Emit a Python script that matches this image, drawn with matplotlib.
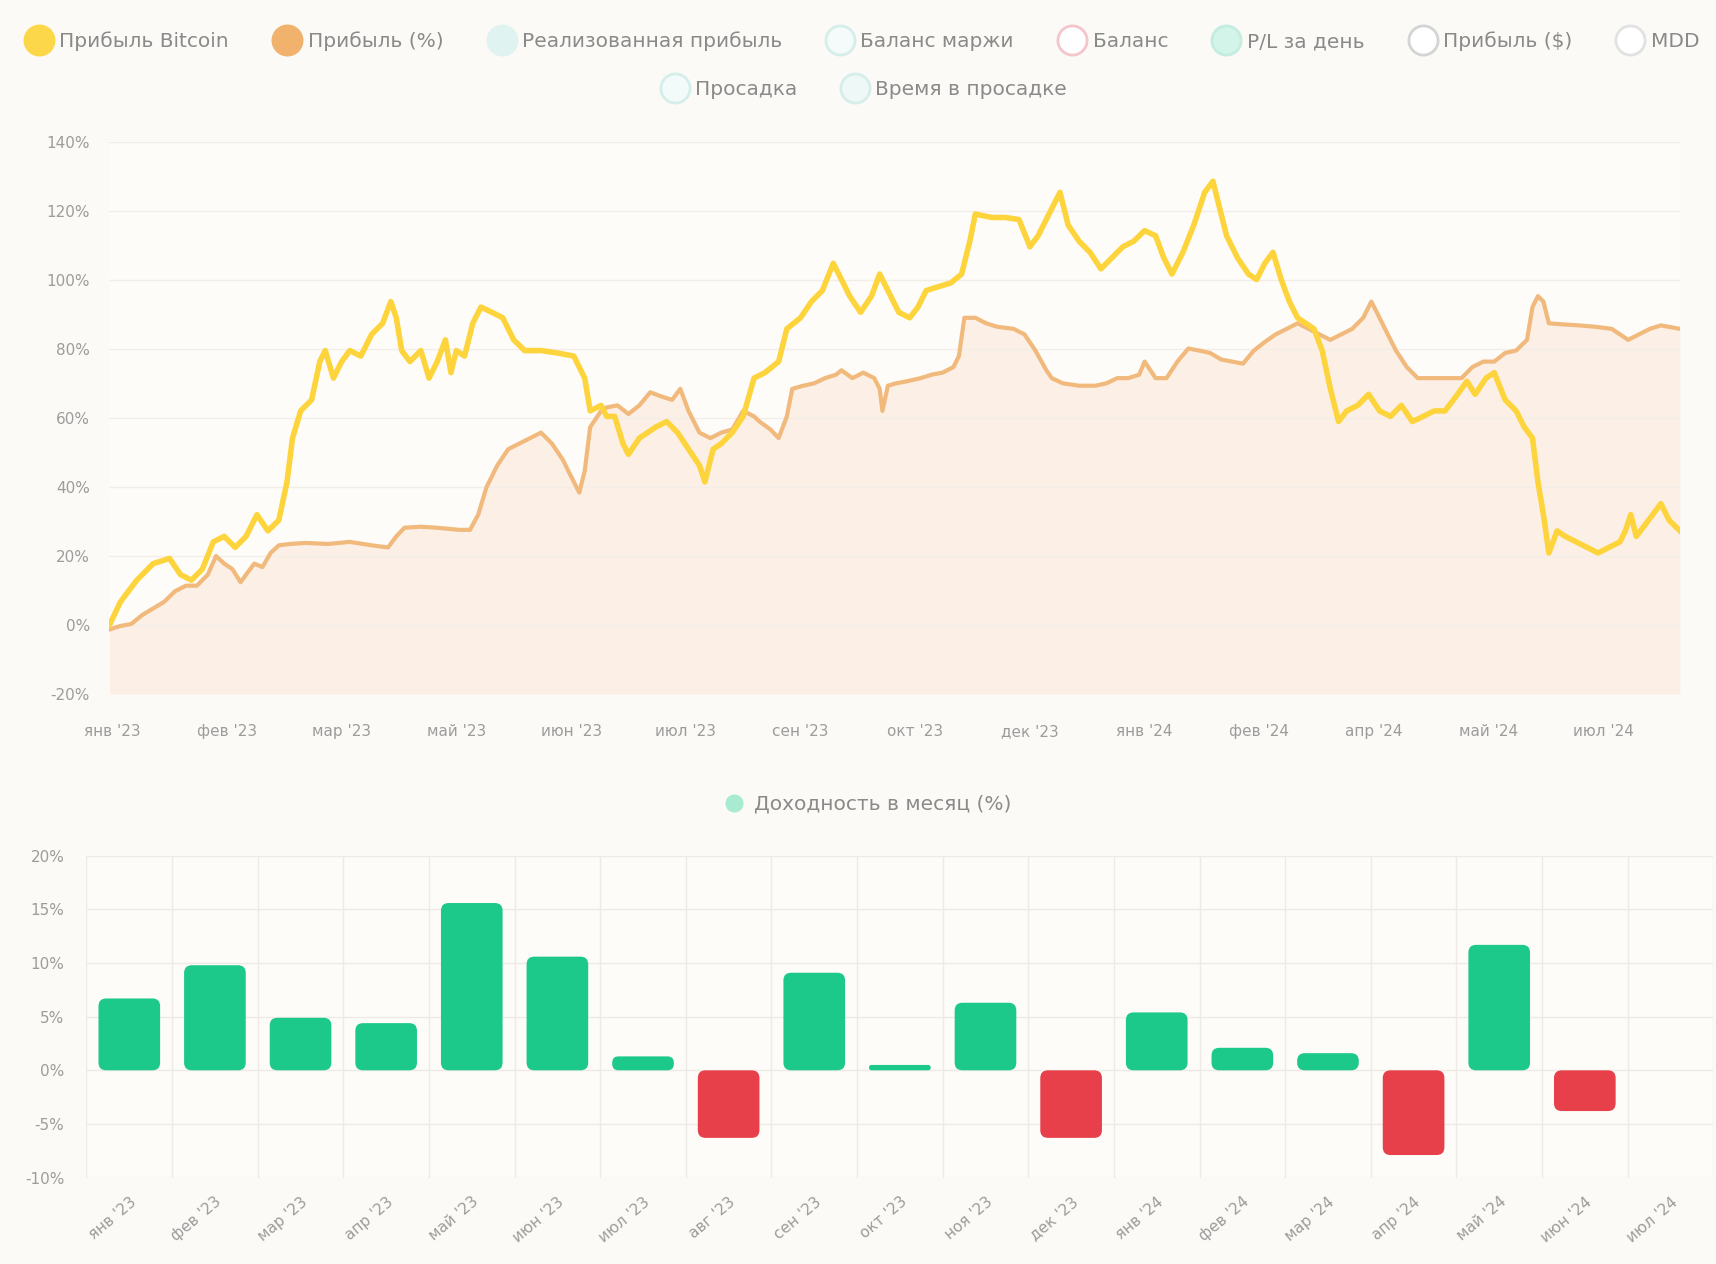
import numpy as np
import matplotlib.pyplot as plt
from matplotlib.lines import Line2D
from matplotlib.patches import FancyBboxPatch

plt.rcParams['font.family'] = ['DejaVu Sans']

# --- top chart: cumulative profit vs Bitcoin (days since start, %) ---
btc_days = [0, 4, 10, 16, 22, 26, 30, 34, 38, 42, 46, 50, 54, 58, 62, 65, 67, 70, 74, 77,
            79, 82, 85, 88, 92, 96, 100, 103, 105, 107, 110, 114, 117, 120, 123, 125, 127, 130, 133, 136,
            140, 144, 148, 152, 158, 164, 170, 174, 176, 180, 182, 185, 188, 190, 194, 197, 200, 204, 208, 212,
            216, 218, 221, 224, 228, 232, 236, 240, 245, 248, 253, 257, 261, 265, 268, 271, 275, 279, 282, 285,
            289, 293, 296, 299, 303, 308, 312, 315, 317, 323, 328, 333, 337, 340, 344, 348, 351, 355, 359, 363,
            367, 371, 375, 379, 383, 386, 389, 393, 397, 401, 404, 407, 409, 413, 417, 420, 423, 426, 429, 432,
            435, 438, 441, 444, 447, 450, 453, 457, 461, 465, 469, 473, 477, 481, 485, 489, 493, 497, 500, 504,
            507, 511, 515, 518, 521, 523, 525, 527, 530, 533, 537, 541, 545, 549, 553, 555, 557, 559, 562, 565,
            568, 571, 575]
btc_pct = [0.0, 6.7, 13.0, 17.8, 19.3, 14.6, 13.0, 16.2, 24.1, 25.7, 22.5, 25.7, 32.0, 27.3, 30.4, 41.5, 54.2, 62.1, 65.3, 76.4,
           79.6, 71.6, 76.4, 79.6, 78.0, 84.3, 87.5, 93.8, 89.1, 79.6, 76.4, 79.6, 71.6, 76.4, 82.7, 73.2, 79.6, 78.0, 87.5, 92.2,
           90.7, 89.1, 82.7, 79.6, 79.6, 78.9, 78.0, 71.6, 62.1, 63.7, 60.5, 60.5, 52.6, 49.5, 54.2, 55.8, 57.4, 59.0, 55.8, 51.0,
           46.3, 41.5, 51.0, 52.6, 55.8, 60.5, 71.6, 73.2, 76.4, 85.9, 89.1, 93.8, 97.0, 104.9, 100.2, 95.4, 90.7, 95.4, 101.8, 97.0,
           90.7, 89.1, 92.2, 97.0, 98.0, 99.2, 101.8, 111.3, 119.2, 118.2, 118.2, 117.6, 109.7, 112.9, 119.2, 125.5, 116.0, 111.3, 108.1, 103.3,
           106.5, 109.7, 111.3, 114.4, 112.9, 106.5, 101.8, 108.1, 116.0, 125.5, 128.7, 119.2, 112.9, 106.5, 101.8, 100.2, 104.9, 108.1, 100.2, 93.8,
           89.1, 87.5, 85.9, 79.6, 68.5, 59.0, 62.1, 63.7, 66.9, 62.1, 60.5, 63.7, 59.0, 60.5, 62.1, 62.1, 66.3, 70.7, 66.9, 71.6,
           73.2, 65.3, 62.1, 57.4, 54.2, 41.5, 32.0, 20.9, 27.3, 25.7, 24.1, 22.5, 20.9, 22.5, 24.1, 27.3, 32.0, 25.7, 28.8, 32.0,
           35.2, 30.4, 27.3]

profit_days = [0, 4, 8, 12, 16, 20, 24, 28, 32, 36, 39, 42, 45, 48, 50, 53, 56, 59, 62, 66,
               72, 80, 88, 96, 102, 105, 108, 114, 120, 128, 132, 135, 138, 142, 146, 150, 154, 158, 162, 166,
               169, 172, 174, 176, 180, 182, 186, 190, 194, 198, 202, 206, 209, 212, 216, 220, 224, 228, 232, 236,
               238, 242, 245, 248, 250, 254, 258, 262, 266, 268, 272, 276, 280, 282, 283, 285, 288, 292, 297, 301,
               305, 309, 311, 313, 317, 321, 325, 331, 335, 339, 343, 345, 349, 355, 361, 365, 369, 373, 377, 379,
               383, 387, 391, 395, 399, 403, 407, 411, 415, 419, 423, 427, 431, 435, 439, 443, 447, 451, 455, 459,
               462, 464, 467, 471, 475, 479, 483, 489, 495, 499, 503, 507, 511, 515, 519, 521, 523, 525, 527, 532,
               538, 544, 550, 556, 560, 564, 568, 575]
profit_pct = [-1.3, -0.3, 0.3, 2.9, 4.8, 6.7, 9.8, 11.4, 11.4, 14.6, 20.0, 17.8, 16.2, 12.4, 14.6, 17.8, 16.8, 20.9, 23.1, 23.5,
              23.8, 23.5, 24.1, 23.1, 22.5, 25.7, 28.2, 28.5, 28.2, 27.6, 27.6, 32.0, 39.9, 46.3, 51.0, 52.6, 54.2, 55.8, 52.6, 47.9,
              43.1, 38.4, 44.7, 57.4, 62.1, 63.1, 63.7, 61.2, 63.7, 67.5, 66.3, 65.3, 68.5, 62.1, 55.8, 54.2, 55.8, 56.7, 62.1, 60.5,
              59.0, 56.7, 54.2, 60.5, 68.5, 69.4, 70.1, 71.6, 72.6, 73.9, 71.6, 73.2, 71.6, 68.5, 62.1, 69.4, 70.1, 70.7, 71.6, 72.6,
              73.2, 74.8, 78.0, 89.1, 89.1, 87.5, 86.5, 85.9, 84.3, 79.6, 73.9, 71.6, 70.1, 69.4, 69.4, 70.1, 71.6, 71.6, 72.6, 76.4,
              71.6, 71.6, 76.4, 80.2, 79.6, 78.9, 77.0, 76.4, 75.8, 79.6, 82.1, 84.3, 85.9, 87.5, 85.9, 84.3, 82.7, 84.3, 85.9, 89.1,
              93.8, 90.7, 85.9, 79.6, 74.8, 71.6, 71.6, 71.6, 71.6, 74.8, 76.4, 76.4, 78.9, 79.6, 82.7, 92.2, 95.4, 93.8, 87.5, 87.2,
              86.9, 86.5, 85.9, 82.7, 84.3, 85.9, 86.9, 85.9]

top_tick_days = [1, 43, 85, 127, 169, 211, 253, 295, 337, 379, 421, 463, 505, 547]
top_tick_labels = ["янв '23", "фев '23", "мар '23", "май '23", "июн '23", "июл '23", "сен '23",
                   "окт '23", "дек '23", "янв '24", "фев '24", "апр '24", "май '24", "июл '24"]

# --- bottom chart: monthly return (%) ---
months = ["янв '23", "фев '23", "мар '23", "апр '23", "май '23", "июн '23", "июл '23", "авг '23",
          "сен '23", "окт '23", "ноя '23", "дек '23", "янв '24", "фев '24", "мар '24", "апр '24",
          "май '24", "июн '24", "июл '24"]
monthly_return = [6.7, 9.8, 4.9, 4.4, 15.6, 10.6, 1.3, -6.3, 9.1, 0.5, 6.3, -6.3, 5.4, 2.1, 1.6, -7.9,
                  11.7, -3.8, 0.0]

legend_row1 = ["Прибыль Bitcoin", "Прибыль (%)", "Реализованная прибыль", "Баланс маржи",
               "Баланс", "P/L за день", "Прибыль ($)", "MDD"]
legend_row2 = ["Просадка", "Время в просадке"]

bg = '#fcfaf6'
tick_color = '#9c9c9c'

fig = plt.figure(figsize=(17.16, 12.64), dpi=100, facecolor=bg)

# top chart
ax1 = fig.add_axes([0.0638, 0.451, 0.9152, 0.4364])
ax1.set_facecolor('#fdfcf9')
ax1.fill_between(profit_days, profit_pct, -20, color='#fcf0e6', lw=0, zorder=1)
ax1.plot(profit_days, profit_pct, color='#f1b97c', lw=3, zorder=3, solid_joinstyle='round')
ax1.plot(btc_days, btc_pct, color='#fdd43c', lw=4, zorder=4, solid_joinstyle='round')
ax1.set_xlim(0, 575)
ax1.set_ylim(-20, 140)
ax1.set_yticks(range(-20, 141, 20))
ax1.set_yticklabels([f"{v}%" for v in range(-20, 141, 20)])
ax1.set_xticks(top_tick_days)
ax1.set_xticklabels(top_tick_labels)
ax1.grid(axis='y', color='#f2eee7', lw=1, zorder=0)
ax1.tick_params(length=0, colors=tick_color, labelsize=11)
ax1.tick_params(axis='x', pad=22)
ax1.tick_params(axis='y', pad=14)
for s in ax1.spines.values():
    s.set_visible(False)

# bottom chart
ax2 = fig.add_axes([0.0504, 0.0684, 0.948, 0.2545])
ax2.set_facecolor('#fdfcf9')
ax2.set_xlim(-0.5, len(months) - 0.5)
ax2.set_ylim(-10, 20)
aspect = (30 / (0.2545 * 12.64)) / (len(months) / (0.948 * 17.16))
bar_w = 0.72
for i, v in enumerate(monthly_return):
    if v == 0:
        continue
    color = '#1dc98a' if v > 0 else '#e8404b'
    y0 = min(0, v)
    h = abs(v)
    rs = min(0.09, h / aspect / 2.2)
    p = FancyBboxPatch((i - bar_w / 2, y0), bar_w, h,
                       boxstyle=f"round,pad=0,rounding_size={rs}",
                       mutation_aspect=aspect, fc=color, ec='none', zorder=3)
    ax2.add_patch(p)
ax2.set_xticks(np.arange(len(months)))
ax2.set_xticklabels(months, rotation=40, ha='right', rotation_mode='anchor')
ax2.set_xticks(np.arange(len(months) + 1) - 0.5, minor=True)
ax2.set_yticks(range(-10, 21, 5))
ax2.set_yticklabels([f"{v}%" for v in range(-10, 21, 5)])
ax2.grid(axis='y', color='#efebe4', lw=1, zorder=0)
ax2.grid(axis='x', which='minor', color='#efebe4', lw=1, zorder=0)
ax2.tick_params(which='both', length=0, colors=tick_color, labelsize=11)
ax2.tick_params(axis='x', pad=12)
ax2.tick_params(axis='y', pad=16)
for s in ax2.spines.values():
    s.set_visible(False)

# legends
faces1 = ['#fdd74a', '#f0b26c', '#dff3f0', '#f4fbfa', '#ffffff', '#d3f4e8', '#ffffff', '#ffffff']
edges1 = ['#fdd74a', '#f0b26c', '#dff3f0', '#d5eeea', '#f4c6cb', '#c4eddf', '#d4d4d4', '#e2e2e2']
faces2 = ['#f3fbfa', '#eef8f6']
edges2 = ['#d5eeea', '#d5eeea']


def handles(labels, faces, edges, size):
    return [Line2D([], [], ls='', marker='o', markersize=size, markerfacecolor=f,
                   markeredgecolor=e, markeredgewidth=2, label=l)
            for l, f, e in zip(labels, faces, edges)]


leg_kw = dict(loc='center', frameon=False, fontsize=14.5, labelcolor='#8a8a8a',
              handletextpad=0.4, columnspacing=2.3, handlelength=1.2)
fig.legend(handles=handles(legend_row1, faces1, edges1, 21), ncol=8,
           bbox_to_anchor=(0.503, 1 - 38 / 1155), **leg_kw)
fig.legend(handles=handles(legend_row2, faces2, edges2, 21), ncol=2,
           bbox_to_anchor=(0.504, 1 - 82 / 1155), **leg_kw)
fig.legend(handles=[Line2D([], [], ls='', marker='o', markersize=12, markerfacecolor='#a8ebd2',
                           markeredgecolor='#a8ebd2', label="Доходность в месяц (%)")],
           bbox_to_anchor=(0.505, 1 - 735 / 1155), **leg_kw)

fig.savefig('out.png', dpi=100, facecolor=bg)
